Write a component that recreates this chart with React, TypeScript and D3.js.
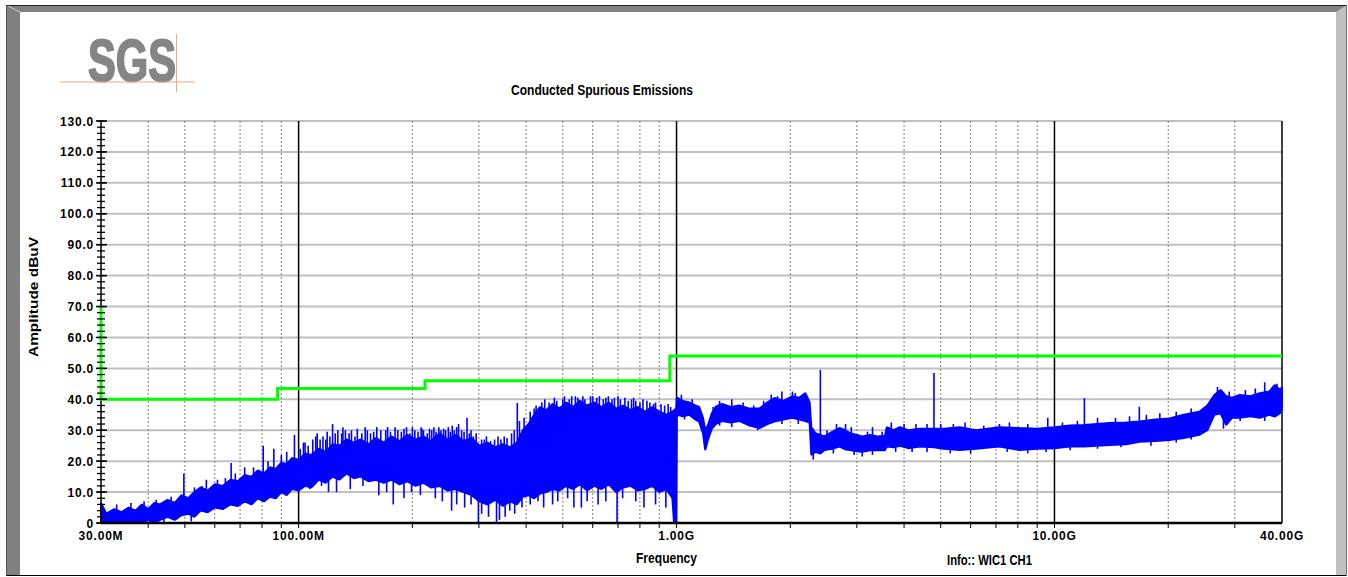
import React from "react";
import * as d3 from "d3";

// Conducted spurious emissions plot (log frequency axis, MHz)
const W = 1348;
const H = 577;
const plot = { left: 101, right: 1282, top: 121, bottom: 523 };

const xTickValues = [30, 100, 1000, 10000, 40000];
const xTickLabels = ["30.00M", "100.00M", "1.00G", "10.00G", "40.00G"];

// limit line (FCC style steps)
const limitFreq = [30, 30, 88, 88, 216, 216, 960, 960, 40000];
const limitLevel = [70, 40, 40, 43.5, 43.5, 46, 46, 54, 54];

const traceFreq = [
  30, 31, 32.5, 34, 35.5, 37, 38.5, 40, 41.5, 43, 45, 47, 49, 51, 53, 55, 57.5, 60, 63, 66,
  69, 72, 75, 78, 81, 84, 87, 90, 93, 96, 100, 104, 108, 113, 118, 123, 128, 134, 140, 146,
  153, 160, 168, 176, 185, 194, 204, 214, 224, 236, 248, 260, 273, 287, 301, 316, 331, 347, 363, 378,
  392, 406, 420, 435, 452, 470, 490, 510, 532, 555, 580, 606, 633, 662, 692, 723, 756, 790, 825, 862,
  900, 940, 975, 985, 998,
  1002, 1040, 1081, 1120, 1148, 1175, 1191, 1210, 1240, 1270, 1320, 1390, 1466, 1560, 1657, 1740, 1816, 1920, 2026, 2110,
  2192, 2250, 2273, 2330, 2402, 2462, 2580, 2697, 2800, 2880, 3000, 3100, 3250, 3400, 3560, 3600, 3750, 3899, 4100, 4400,
  4799, 5100, 5622, 6200, 7151, 8085, 9000, 10000, 11000, 12000, 13970, 15500, 16770, 18500, 20130, 22000, 24170, 25370, 26490, 27500,
  28480, 29500, 30920, 33000, 34920, 37000, 38250, 39500, 40000,
];
const traceLow = [
  0, 0.5, 0, 0, 0.5, 0, 0, 1, 0, 1, 2, 1, 2.5, 3, 2, 4, 3.5, 5, 4.5, 6,
  5.5, 7, 6, 8, 7, 8.5, 8, 10, 9, 11, 10.5, 12, 11.5, 14, 13, 15, 14, 16, 14.5, 15,
  13.5, 14, 13, 14, 12.5, 13.5, 12, 13, 11.5, 12, 10.5, 11, 10, 9, 7, 6, 7.5, 5.5, 7, 6,
  8.5, 9, 8, 9.5, 10, 11, 10.5, 12, 11, 12.5, 10.5, 12, 11, 12.5, 10, 11.5, 12, 10.5, 11, 12,
  10, 11, 8, 0, 0,
  35, 34.5, 35, 33.5, 32.8, 29, 23.6, 26.8, 30.5, 32, 33, 32.5, 33, 31.5, 30.7, 32, 32.8, 33.5, 34, 33.5,
  33, 32.5, 22, 23, 22.5, 23.6, 24, 24.7, 23.8, 23.6, 23.2, 23, 23.5, 23.6, 23.5, 24.7, 24.5, 25, 24.2, 24.7,
  24.5, 24, 23.6, 24, 24.7, 23.6, 24, 24.2, 24.7, 24.7, 25.2, 25.5, 26.3, 26.5, 26.8, 27.5, 28.5, 30, 35, 35.5,
  31.7, 34, 34, 34.5, 34, 35, 34.4, 35.5, 37.6,
];
const traceHigh = [
  6.5, 3, 4.5, 3.5, 5, 4, 6, 4.5, 6.5, 6, 7.5, 6.5, 9, 8, 10, 11.5, 10.5, 12.5, 12, 14,
  13.5, 15.5, 15, 17, 16, 18, 17.5, 19.5, 19, 21, 20.5, 22.5, 22, 24, 23, 25.5, 25, 27, 26, 27,
  25.5, 27.5, 26, 28, 26.5, 28.5, 27, 28, 26.5, 29, 27, 28.5, 26.5, 27.5, 25, 26, 24.5, 25.5, 24.5, 26,
  30, 32, 35, 37.5, 36.5, 38.5, 37, 39, 37.5, 39.5, 38, 39, 37.5, 39, 37, 38, 36.5, 37.5, 36, 37.5,
  36, 35, 36, 36.5, 37,
  40.5, 39.5, 39, 38, 37.5, 34, 30, 31.5, 35.5, 37.6, 38.5, 37.5, 38, 37, 37, 39, 40.4, 39.5, 41, 40.5,
  42, 39, 31, 29, 28.5, 28, 29.5, 30.7, 30, 29, 28.5, 28, 28.5, 28, 28.2, 31, 30, 31, 30, 30.5,
  30.5, 30.5, 31, 30, 31, 30.7, 30.5, 31, 31.5, 31.7, 32.3, 32.5, 32.8, 33.5, 33.8, 35, 36, 38, 41.4, 43,
  41, 40.5, 41.4, 41, 42, 42.5, 44.6, 43, 44,
];

// narrow spikes above the envelope
const spikeFreq = [
  33, 36, 39, 42, 46, 49.7, 53, 55.5, 57, 61, 64, 66.3, 68, 72, 76, 80.6, 83, 86, 90, 93,
  97.5, 101, 103, 104, 106, 109, 111, 112, 114, 116, 118, 119, 121, 123, 125, 127, 130, 131, 133, 136,
  138, 141, 143, 147, 150, 152, 155, 158, 161, 165, 170, 172, 175, 180, 183, 187, 190, 193, 197, 200,
  203, 207, 211, 212, 214, 219, 222, 225, 228, 231, 235, 238, 242, 245, 249, 252, 255, 258, 262, 265,
  270, 274, 279, 283, 286, 290, 295, 305, 310, 314, 322, 330, 337, 343, 350, 356, 366, 372, 379, 384,
  395, 410, 420, 425, 440, 448, 460, 475, 482, 500, 505, 520, 528, 540, 548, 565, 572, 592, 600, 615,
  625, 640, 650, 660, 675, 685, 700, 710, 730, 745, 760, 770, 780, 800, 815, 835, 850, 870, 880, 910,
  930, 950, 965,
  1030, 1100, 1250, 1300, 1400, 1500, 1600, 1700, 1780, 1850, 1900, 2026, 2060, 2150, 2402, 2500, 2650, 2800, 2900, 3200,
  3300, 3500, 3700, 4000, 4300, 4600, 4799, 5000, 5400, 5800, 6500, 7151, 7600, 8500, 9600, 10500, 11500, 12000, 13000, 14500,
  15800, 16770, 17500, 19000, 21000, 23000, 27000, 29000, 32000, 34000, 36000, 38800,
];
const spikeTop = [
  6, 6.5, 7, 7.5, 8.5, 16, 11.5, 12, 14, 14, 14.5, 19.4, 16, 18, 18, 25, 20, 24, 22, 23,
  28.5, 24, 26, 26, 25, 27, 28, 29, 27, 28, 27, 29.5, 28, 32, 29, 30, 29, 31, 30, 29,
  30, 28, 30.5, 29, 31, 30, 29, 29.5, 31, 30, 30, 31, 29.5, 31, 30, 29.5, 30.5, 31, 29, 31,
  30, 29.5, 31, 30.5, 30, 29, 30.5, 30, 31, 29.5, 31, 30, 30.5, 30, 31, 29.5, 31.5, 30, 31, 32,
  30, 29.5, 34, 29, 30, 28, 29, 27, 27, 28, 26.5, 27, 28, 27, 28, 27.5, 29, 30, 38.8, 33,
  34, 36, 37, 38, 39, 40, 39, 40.5, 39.5, 40, 41, 40, 41, 41, 40.5, 41, 40, 41, 41, 40.5,
  41, 40, 40.5, 41, 40, 40.5, 41, 40, 40.5, 39.5, 40, 40.5, 39.5, 39, 40, 39.5, 39, 38.5, 39, 38.5,
  38, 38.5, 37.5,
  41.5, 40, 37.5, 39.5, 40, 39, 38, 39.5, 41.5, 41, 42.5, 42.5, 42, 41.5, 49.5, 30, 32, 32, 31, 29.5,
  31, 29.5, 32.5, 32, 32, 32, 48.5, 32, 32, 32.5, 31.5, 32, 32.5, 32, 34, 32.5, 33, 40.4, 34, 34,
  34.5, 37.6, 35, 35.5, 36, 37, 44, 42.5, 43, 43.5, 45.5, 45,
];

// narrow dips below the envelope
const dipFreq = [
  44, 52, 74.6, 102, 107, 115, 120, 126, 137, 148, 163, 171, 178, 190, 199, 210, 230, 240, 254, 262,
  275, 286, 299, 305, 318, 334, 340, 352, 362, 373, 390, 410, 430, 445, 470, 485, 515, 535, 560, 580,
  620, 650, 696, 720, 780, 820, 880, 937,
  1050, 1300, 1400, 1640, 1900, 2100, 2300, 2600, 2950, 3100, 3300, 3800, 4200, 4600, 5300, 6000, 7500, 8500, 9500, 11000,
  13000, 15000, 18000, 21000, 23000, 28000, 31000, 36000,
];
const dipBottom = [
  0, 0.5, 6.4, 12, 11, 12, 10, 10, 11, 12, 9, 10, 6, 8, 10, 9, 8, 7, 4, 6,
  5, 6, 0.3, 3, 2, 0, 1, 2, 4, 3, 5, 6, 7, 5, 6, 7, 8, 5, 5, 7,
  6, 7, 0, 8, 7, 5, 6, 5,
  33.5, 31.5, 31, 30, 32, 32, 20.5, 22.5, 22, 21.5, 22, 23, 23, 23, 22.5, 22.5, 23, 22.5, 23, 23.5,
  24, 24.5, 25, 26, 27, 30.5, 33, 33,
];

const bold = "'Liberation Sans', Arial, sans-serif";
const narrow = "'Liberation Sans Narrow', 'Arial Narrow', 'Liberation Sans', sans-serif";

export default function App() {
  const x = d3.scaleLog().domain([30, 40000]).range([plot.left, plot.right]);
  const y = d3.scaleLinear().domain([0, 130]).range([plot.bottom, plot.top]);

  const hiAt = d3.scaleLog().domain(traceFreq).range(traceHigh);
  const loAt = d3.scaleLog().domain(traceFreq).range(traceLow);

  const trace = traceFreq.map((f, i) => ({ f, lo: traceLow[i], hi: traceHigh[i] }));
  const area = d3
    .area<{ f: number; lo: number; hi: number }>()
    .x((d) => x(d.f))
    .y0((d) => y(d.lo))
    .y1((d) => y(d.hi));

  const limit = limitFreq.map((f, i) => [x(f), y(limitLevel[i])] as [number, number]);
  const limitPath = d3.line()(limit) || "";

  const xTicks = x.ticks();
  const isDecade = (f: number) => Math.abs(Math.log10(f) - Math.round(Math.log10(f))) < 1e-9;
  const yMajor = y.ticks(13);
  const yMinor = d3.range(0, 131, 2);

  return (
    <svg
      width={W}
      height={H}
      style={{ position: "absolute", left: 0, top: 0, background: "#fff" }}
    >
      {/* panel frame */}
      <rect x={6} y={5} width={1341} height={571} fill="#808080" />
      <polygon points="1336,12 1347,5 1347,576 1336,576" fill="#c0c0c0" />
      <rect x={20} y={12} width={1316} height={564} fill="#fff" />
      <line x1={6} x2={20} y1={5} y2={12} stroke="#d0d0d0" />
      <line x1={6} x2={1347} y1={5.5} y2={5.5} stroke="#202020" />
      <line x1={6} x2={1347} y1={575.5} y2={575.5} stroke="#000" />
      <line x1={6.5} x2={6.5} y1={5} y2={576} stroke="#505050" />
      <line x1={1346.5} x2={1346.5} y1={5} y2={576} stroke="#707070" />

      {/* logo */}
      <text
        x={88}
        y={81}
        fontFamily={narrow}
        fontWeight="bold"
        fontSize={60}
        fill="#858585"
        stroke="#858585"
        strokeWidth={2}
        textLength={88}
        lengthAdjust="spacingAndGlyphs"
      >
        SGS
      </text>
      <line x1={60} x2={195} y1={82} y2={82} stroke="#f3a77f" strokeWidth={1} />
      <line x1={176.5} x2={176.5} y1={34} y2={92} stroke="#f3a77f" strokeWidth={1} />

      <text
        x={511}
        y={95}
        fontFamily={narrow}
        fontWeight="bold"
        fontSize={14}
        textLength={182}
        lengthAdjust="spacingAndGlyphs"
      >
        Conducted Spurious Emissions
      </text>

      {/* horizontal grid */}
      {yMajor
        .filter((v) => v > 0)
        .map((v) => (
          <line key={"hg" + v} x1={plot.left} x2={plot.right} y1={y(v)} y2={y(v)} stroke="#c0c0c0" strokeWidth={2} />
        ))}
      {/* vertical grid */}
      {xTicks
        .filter((f) => f > 30 && f < 40000)
        .map((f) =>
          isDecade(f) ? (
            <line key={"vg" + f} x1={x(f)} x2={x(f)} y1={plot.top} y2={plot.bottom} stroke="#000" strokeWidth={1.5} />
          ) : (
            <line
              key={"vg" + f}
              x1={x(f)}
              x2={x(f)}
              y1={plot.top}
              y2={plot.bottom}
              stroke="#808080"
              strokeWidth={1}
              strokeDasharray="2,2"
            />
          )
        )}
      <line x1={plot.right} x2={plot.right} y1={plot.top} y2={plot.bottom} stroke="#000" strokeWidth={1.5} />

      {/* trace */}
      <path d={area(trace) || ""} fill="#0000ff" stroke="#0000ff" strokeWidth={2} strokeLinejoin="bevel" />
      {spikeFreq.map((f, i) => (
        <line
          key={"sp" + i}
          x1={x(f)}
          x2={x(f)}
          y1={y(spikeTop[i])}
          y2={y(hiAt(f)) + 2}
          stroke="#0000ff"
          strokeWidth={1.6}
        />
      ))}
      {dipFreq.map((f, i) => (
        <line
          key={"dp" + i}
          x1={x(f)}
          x2={x(f)}
          y1={y(dipBottom[i])}
          y2={y(loAt(f)) - 2}
          stroke="#0000ff"
          strokeWidth={1.6}
        />
      ))}

      {/* y axis */}
      <line x1={plot.left} x2={plot.left} y1={plot.top} y2={plot.bottom} stroke="#000" strokeWidth={1.5} />
      <path d={limitPath} fill="none" stroke="#00ff00" strokeWidth={3} />
      {yMinor.map((v) => (
        <line key={"ym" + v} x1={plot.left - 4} x2={plot.left + 4} y1={y(v)} y2={y(v)} stroke="#000" strokeWidth={1.3} />
      ))}
      {yMajor.map((v) => (
        <g key={"yt" + v}>
          <line x1={plot.left - 5} x2={plot.left + 6} y1={y(v)} y2={y(v)} stroke="#000" strokeWidth={1.5} />
          <text
            x={94}
            y={y(v) + 4.5}
            textAnchor="end"
            fontFamily={bold}
            fontWeight="bold"
            fontSize={12}
            letterSpacing={0.8}
          >
            {v === 0 ? "0" : v.toFixed(1)}
          </text>
        </g>
      ))}

      {/* x axis */}
      <line x1={plot.left} x2={plot.right} y1={plot.bottom} y2={plot.bottom} stroke="#000" strokeWidth={2.5} />
      {xTicks
        .filter((f) => f > 30 && f < 40000)
        .map((f) => (
          <line key={"xt" + f} x1={x(f)} x2={x(f)} y1={plot.bottom} y2={plot.bottom + 5} stroke="#000" strokeWidth={1} />
        ))}
      {xTickValues.map((f, i) => (
        <text
          key={"xl" + f}
          x={x(f)}
          y={540}
          textAnchor="middle"
          fontFamily={bold}
          fontWeight="bold"
          fontSize={12}
          letterSpacing={0.8}
        >
          {xTickLabels[i]}
        </text>
      ))}

      {/* axis titles */}
      <text
        x={636}
        y={563}
        fontFamily={narrow}
        fontWeight="bold"
        fontSize={15}
        textLength={61}
        lengthAdjust="spacingAndGlyphs"
      >
        Frequency
      </text>
      <text
        x={947}
        y={565}
        fontFamily={narrow}
        fontWeight="bold"
        fontSize={15}
        textLength={85}
        lengthAdjust="spacingAndGlyphs"
      >
        Info:: WIC1 CH1
      </text>
      <text
        transform="translate(38,357) rotate(-90)"
        fontFamily={bold}
        fontWeight="bold"
        fontSize={13}
        textLength={120}
        lengthAdjust="spacingAndGlyphs"
      >
        Amplitude dBuV
      </text>
    </svg>
  );
}
